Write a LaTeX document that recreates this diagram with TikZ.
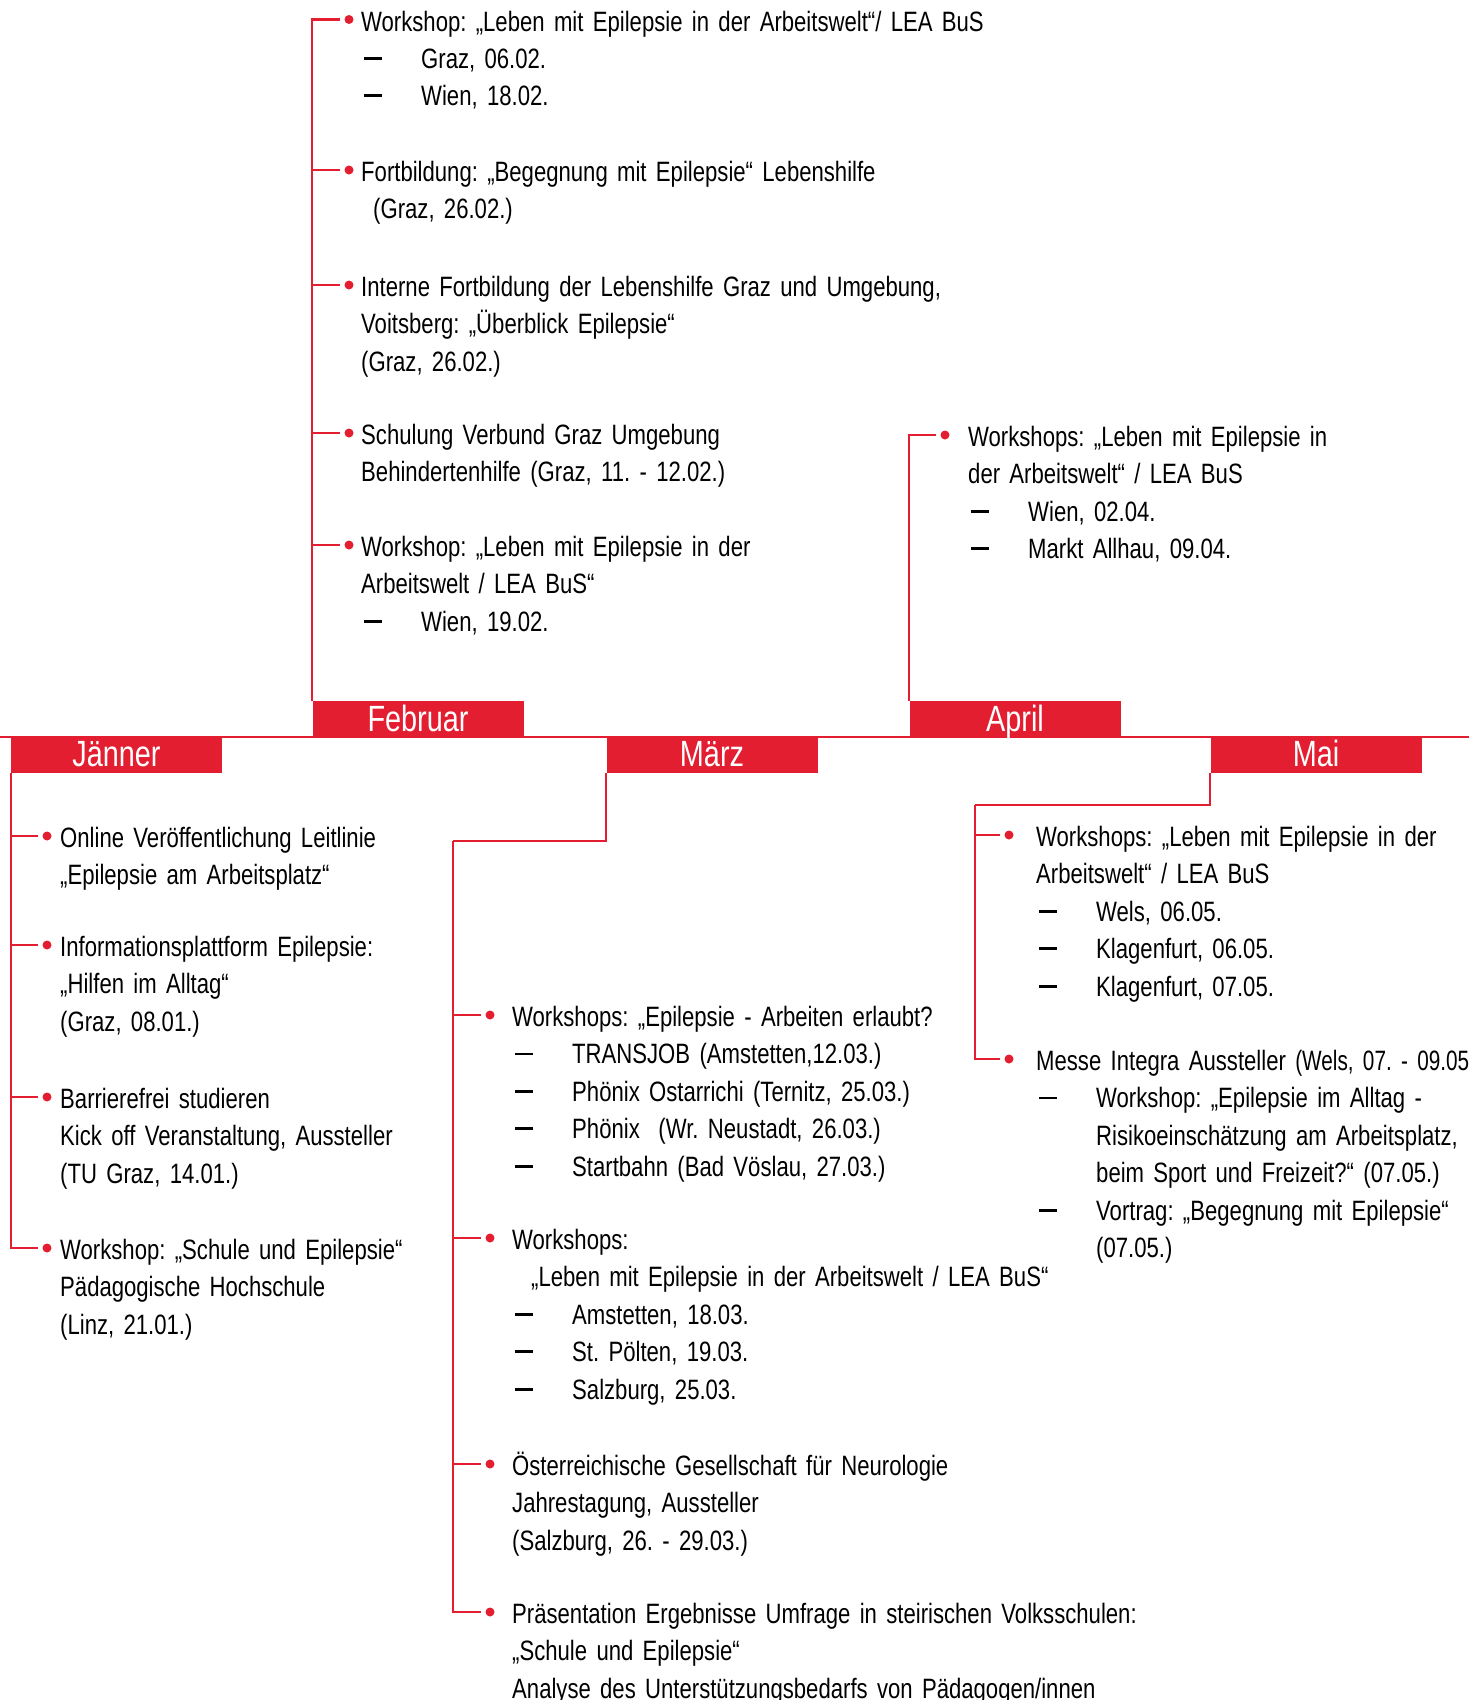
\documentclass[tikz,border=0pt]{standalone}
\usepackage{fontspec}
\setmainfont{Liberation Sans}[FakeStretch=0.79]
\newfontfamily\tightfont{Liberation Sans}[FakeStretch=0.74]
\usepackage{xcolor}
\usetikzlibrary{positioning}
\definecolor{tlred}{RGB}{227,30,48}
\newcommand{\dashitem}{\hspace*{3pt}\makebox[57pt][l]{\rule[8.6pt]{18pt}{2.8pt}}}
\newcommand{\entryfont}{\fontsize{28}{37.4}\selectfont}
\frenchspacing

\begin{document}
\begin{tikzpicture}[
  x=1pt, y=-1pt,
  month/.style={fill=tlred, text=white, minimum width=211pt, minimum height=36pt, inner sep=0pt,
    text height=28pt, text depth=3.8pt, font=\fontsize{36.5}{42}\selectfont},
  dot/.style={circle, fill=tlred, inner sep=0pt, minimum size=9pt, outer sep=5pt},
  entry/.style={anchor=base west, inner sep=0pt, align=left, text width=720pt, font=\entryfont},
  link/.style={draw=tlred, line width=2.2pt}
]
\useasboundingbox (0,0) rectangle (1469,1700);

% timeline
\coordinate (lineL) at (0,737);
\coordinate (lineR) at (1469,737);
\draw[tlred, line width=2pt] (lineL) -- (lineR);

\node[month] (jan) at (116.5,754.5) {Jänner};
\node[month] (feb) at (418,719) {Februar};
\node[month] (mar) at (712,754.5) {März};
\node[month] (apr) at (1015,719) {April};
\node[month] (mai) at (1316,754.5) {Mai};

% Februar
\node[dot] (f1) at (349,19.5) {};
\node[dot] (f2) at (349,170) {};
\node[dot] (f3) at (349,285) {};
\node[dot] (f4) at (349,433) {};
\node[dot] (f5) at (349,545) {};
\node[entry] (f1t) at (361,31) {Workshop: „Leben mit Epilepsie in der Arbeitswelt“/ LEA BuS\\
  \dashitem Graz, 06.02.\\
  \dashitem Wien, 18.02.};
\node[entry] (f2t) at (361,181.5) {Fortbildung: „Begegnung mit Epilepsie“ Lebenshilfe\\
  \hspace*{12pt}(Graz, 26.02.)};
\node[entry] (f3t) at (361,296.5) {Interne Fortbildung der Lebenshilfe Graz und Umgebung,\\
  Voitsberg: „Überblick Epilepsie“\\
  (Graz, 26.02.)};
\node[entry] (f4t) at (361,444.5) {Schulung Verbund Graz Umgebung\\
  Behindertenhilfe (Graz, 11. - 12.02.)};
\node[entry] (f5t) at (361,556.5) {Workshop: „Leben mit Epilepsie in der\\
  Arbeitswelt / LEA BuS“\\
  \dashitem Wien, 19.02.};
\foreach \n in {f1,f2,f3,f4,f5}
  \draw[link] (feb.north west) |- (\n.west);

% April
\node[dot] (a1) at (945,435) {};
\node[entry] (a1t) at (968,446.5) {Workshops: „Leben mit Epilepsie in\\
  der Arbeitswelt“ / LEA BuS\\
  \dashitem Wien, 02.04.\\
  \dashitem Markt Allhau, 09.04.};
\draw[link] (apr.north west) |- (a1.west);

% Jaenner
\node[dot] (j1) at (47,836) {};
\node[dot] (j2) at (47,945) {};
\node[dot] (j3) at (47,1097) {};
\node[dot] (j4) at (47,1248) {};
\node[entry] (j1t) at (60,847.5) {Online Veröffentlichung Leitlinie\\
  „Epilepsie am Arbeitsplatz“};
\node[entry] (j2t) at (60,956.5) {Informationsplattform Epilepsie:\\
  „Hilfen im Alltag“\\
  (Graz, 08.01.)};
\node[entry] (j3t) at (60,1108.5) {Barrierefrei studieren\\
  Kick off Veranstaltung, Aussteller\\
  (TU Graz, 14.01.)};
\node[entry] (j4t) at (60,1259.5) {Workshop: „Schule und Epilepsie“\\
  Pädagogische Hochschule\\
  (Linz, 21.01.)};
\foreach \n in {j1,j2,j3,j4}
  \draw[link] (jan.south west) |- (\n.west);

% Maerz
\coordinate (mbend) at (453,841);
\node[dot] (m1) at (490,1015) {};
\node[dot] (m2) at (490,1238) {};
\node[dot] (m3) at (490,1464) {};
\node[dot] (m4) at (490,1612) {};
\node[entry] (m1t) at (512,1026.5) {Workshops: „Epilepsie - Arbeiten erlaubt?\\
  \dashitem TRANSJOB (Amstetten,12.03.)\\
  \dashitem Phönix Ostarrichi (Ternitz, 25.03.)\\
  \dashitem Phönix\ \ (Wr. Neustadt, 26.03.)\\
  \dashitem Startbahn (Bad Vöslau, 27.03.)};
\node[entry] (m2t) at (512,1249.5) {Workshops:\\
  \hspace*{19pt}„Leben mit Epilepsie in der Arbeitswelt / LEA BuS“\\
  \dashitem Amstetten, 18.03.\\
  \dashitem St. Pölten, 19.03.\\
  \dashitem Salzburg, 25.03.};
\node[entry] (m3t) at (512,1475.5) {Österreichische Gesellschaft für Neurologie\\
  Jahrestagung, Aussteller\\
  (Salzburg, 26. - 29.03.)};
\node[entry] (m4t) at (512,1623.5) {Präsentation Ergebnisse Umfrage in steirischen Volksschulen:\\
  „Schule und Epilepsie“\\
  Analyse des Unterstützungsbedarfs von Pädagogen/innen};
\draw[link] (mar.south west) |- (mbend);
\foreach \n in {m1,m2,m3,m4}
  \draw[link] (mbend) |- (\n.west);

% Mai
\coordinate (ybend) at (975,805);
\node[dot] (y1) at (1009,835) {};
\node[dot] (y2) at (1009,1059) {};
\node[entry] (y1t) at (1036,846.5) {Workshops: „Leben mit Epilepsie in der\\
  Arbeitswelt“ / LEA BuS\\
  \dashitem Wels, 06.05.\\
  \dashitem Klagenfurt, 06.05.\\
  \dashitem Klagenfurt, 07.05.};
\node[entry] (y2t) at (1036,1070.5) {Messe Integra Aussteller {\tightfont(Wels, 07. - 09.05.)}\\
  \dashitem Workshop: „Epilepsie im Alltag -\\
  \hspace*{60pt}Risikoeinschätzung am Arbeitsplatz,\\
  \hspace*{60pt}beim Sport und Freizeit?“ (07.05.)\\
  \dashitem Vortrag: „Begegnung mit Epilepsie“\\
  \hspace*{60pt}(07.05.)};
\draw[link] (mai.south west) |- (ybend);
\foreach \n in {y1,y2}
  \draw[link] (ybend) |- (\n.west);
\end{tikzpicture}
\end{document}
